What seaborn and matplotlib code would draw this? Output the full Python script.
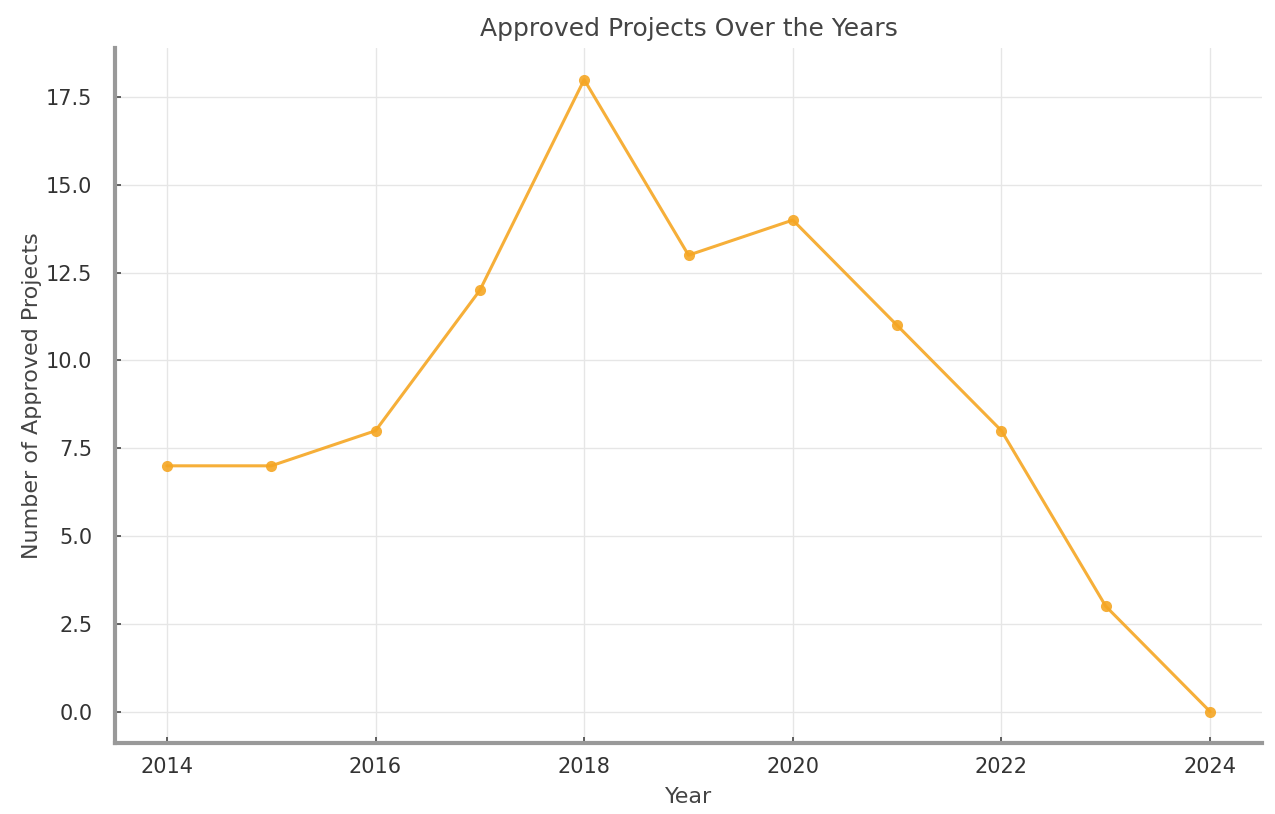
import matplotlib
matplotlib.use("Agg")
import matplotlib.pyplot as plt
import seaborn as sns
import pandas as pd

years = [2014, 2015, 2016, 2017, 2018, 2019, 2020, 2021, 2022, 2023, 2024]
approved = [7, 7, 8, 12, 18, 13, 14, 11, 8, 3, 0]

sns.set_theme(style="whitegrid")
plt.rcParams['font.family'] = ['DejaVu Sans']

df = pd.DataFrame({"Year": years, "Approved": approved})

fig = plt.figure(figsize=(12.75, 8.14), dpi=100)
ax = fig.add_axes([0.09, 0.087, 0.9, 0.854])

sns.lineplot(data=df, x="Year", y="Approved", ax=ax, color="#f5a623",
             marker="o", markersize=8, linewidth=2.2, markeredgewidth=0,
             alpha=0.9)

ax.set_title("Approved Projects Over the Years", fontsize=18, color="#444444", pad=8.5)
ax.set_xlabel("Year", fontsize=16, color="#444444", labelpad=7)
ax.set_ylabel("Number of Approved Projects", fontsize=16, color="#444444", labelpad=3)
ax.tick_params(axis="both", labelsize=15, colors="#444444", direction="in",
               length=4, width=1.2, left=True, bottom=True)
ax.tick_params(axis="x", pad=10)
ax.tick_params(axis="y", pad=16)
ax.tick_params(axis="both", labelcolor="#333333")

ax.grid(True, color="#e6e6e6", linewidth=1)
for side in ["top", "right"]:
    ax.spines[side].set_visible(False)
for side in ["left", "bottom"]:
    ax.spines[side].set_color("#999999")
    ax.spines[side].set_linewidth(3)

fig.savefig("out.png", dpi=100)
